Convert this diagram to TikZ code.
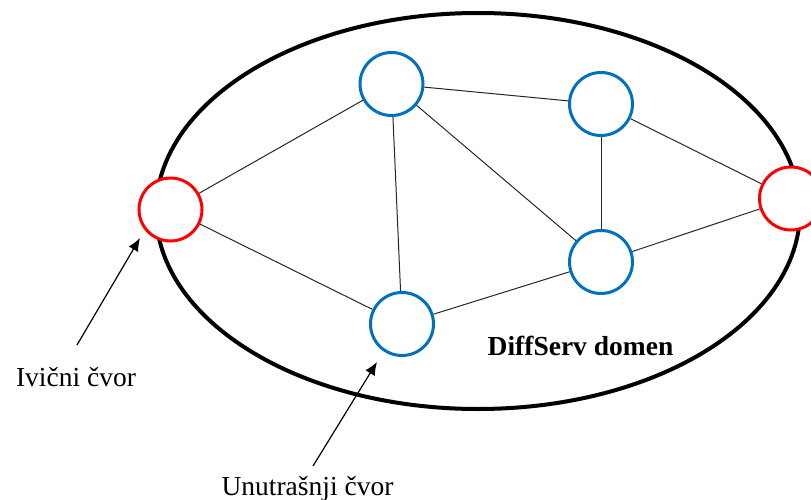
\documentclass[tikz,border=0pt]{standalone}
\usepackage{fontspec}
\setmainfont{Liberation Serif}
\usetikzlibrary{arrows.meta}
\definecolor{edgered}{RGB}{255,0,0}
\definecolor{corblue}{RGB}{0,112,192}
\tikzset{
  router/.style={circle, draw, fill=white, line width=3pt, minimum size=63pt, inner sep=0pt},
  edgenode/.style={router, draw=edgered},
  corenode/.style={router, draw=corblue},
  link/.style={line width=1pt, draw=black!85},
  pointer/.style={line width=1.2pt, -{Latex[length=13pt,width=11pt]}},
  caption/.style={font=\fontsize{27.5}{32}\selectfont, anchor=base, inner sep=0pt}
}
\begin{document}
\begin{tikzpicture}[x=1pt, y=-1pt]
\useasboundingbox (0,0) rectangle (811,500);
% domain boundary
\draw[line width=4pt] (478,211) ellipse [x radius=322, y radius=198];
% routers
\node[edgenode] (eL) at (170.5,209.5) {};
\node[edgenode] (eR) at (791,198.5) {};
\node[corenode] (cT) at (391.5,84) {};
\node[corenode] (cTR) at (601,104) {};
\node[corenode] (cMR) at (601,262) {};
\node[corenode] (cB) at (402,324) {};
% links
\draw[link] (eL) -- (cT);
\draw[link] (eL) -- (cB);
\draw[link] (cT) -- (cTR);
\draw[link] (cT) -- (cB);
\draw[link] (cT) -- (cMR);
\draw[link] (cTR) -- (cMR);
\draw[link] (cTR) -- (eR);
\draw[link] (cMR) -- (eR);
\draw[link] (cB) -- (cMR);
% labels
\node[caption] (lblE) at (76,386) {Ivični čvor};
\node[caption] (lblC) at (307.5,495) {Unutrašnji čvor};
\node[caption, font=\fontsize{27.5}{32}\selectfont\bfseries] (dom) at (580.5,355) {DiffServ domen};
% pointers
\coordinate (pE) at (77,345);
\coordinate (tE) at (140,238);
\coordinate (pC) at (313,466);
\coordinate (tC) at (377,362);
\draw[pointer] (pE) -- (tE);
\draw[pointer] (pC) -- (tC);
\end{tikzpicture}
\end{document}
